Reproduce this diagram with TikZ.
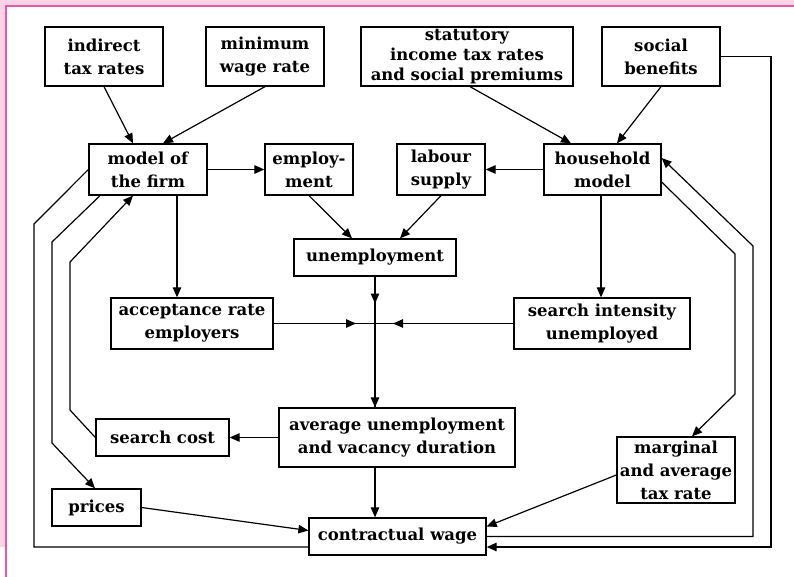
\documentclass[tikz,border=0pt]{standalone}
\usepackage{fontspec}
\setmainfont{DejaVu Serif}
\usetikzlibrary{arrows.meta}
\definecolor{pinkfill}{HTML}{F9D3E6}
\definecolor{pinkline}{HTML}{EE55AA}
\tikzset{
  box/.style={draw=black, line width=1.3pt, fill=white, align=center, inner sep=0pt,
    font=\fontsize{16.5}{23}\selectfont\bfseries},
  arr/.style={line width=1.2pt, -{Triangle[length=10pt,width=8.5pt]}},
  ln/.style={line width=1.2pt},
}
\begin{document}
\begin{tikzpicture}[x=1pt,y=-1pt]
\useasboundingbox (0,0) rectangle (794,577);
% frame
\fill[pinkfill] (0,0) rectangle (794,6);
\fill[pinkfill] (0,0) rectangle (6,547);
\draw[pinkline, line width=1.5pt] (6,577) -- (6,6) -- (794,6);

% nodes
\node[box, minimum width=118pt, minimum height=59pt] (ind) at (104,56.5) {indirect\\tax rates};
\node[box, minimum width=118pt, minimum height=59pt] (minw) at (265,56.5) {minimum\\wage rate};
\node[box, minimum width=212pt, minimum height=59pt, font=\fontsize{16.5}{20}\selectfont\bfseries] (stat) at (467,56.5) {statutory\\income tax rates\\and social premiums};
\node[box, minimum width=118pt, minimum height=59pt] (soc) at (661,56.5) {social\\benefits};
\node[box, minimum width=118pt, minimum height=51pt] (firm) at (148,169.5) {model of\\the firm};
\node[box, minimum width=88pt, minimum height=51pt] (empl) at (309,169.5) {employ-\\ment};
\node[box, minimum width=88pt, minimum height=51pt] (lab) at (441,169.5) {labour\\supply};
\node[box, minimum width=117pt, minimum height=51pt] (hh) at (602.5,169.5) {household\\model};
\node[box, minimum width=162pt, minimum height=37pt] (unem) at (375,257.5) {unemployment};
\node[box, minimum width=162pt, minimum height=51pt] (acc) at (192,323.5) {acceptance rate\\employers};
\node[box, minimum width=176pt, minimum height=51pt] (sint) at (602,323.5) {search intensity\\unemployed};
\node[box, minimum width=236pt, minimum height=59pt] (avg) at (397,437.5) {average unemployment\\and vacancy duration};
\node[box, minimum width=133pt, minimum height=37pt] (scost) at (162.5,437.5) {search cost};
\node[box, minimum width=118pt, minimum height=66pt] (marg) at (676,470) {marginal\\and average\\tax rate};
\node[box, minimum width=89pt, minimum height=37pt] (prices) at (96.5,507.5) {prices};
\node[box, minimum width=177pt, minimum height=37pt] (wage) at (397.5,536.5) {contractual wage};

% junction and bend points
\coordinate (J) at (375,323.5);
\coordinate (a1) at (70,410); \coordinate (a2) at (70,262);
\coordinate (b1) at (52,242); \coordinate (b2) at (52,443);
\coordinate (c1) at (34,224); \coordinate (c2) at (34,547);
\coordinate (d1) at (735,254); \coordinate (d2) at (735,394);
\coordinate (e1) at (753,536.5); \coordinate (e2) at (753,246);
\coordinate (f1) at (771,56.5); \coordinate (f2) at (771,547);

% connectors
\draw[arr] (ind.south) -- ([xshift=-15pt]firm.north);
\draw[arr] (minw.south) -- ([xshift=15pt]firm.north);
\draw[arr] ([xshift=3pt]stat.south) -- ([xshift=-31.5pt]hh.north);
\draw[arr] (soc.south) -- ([xshift=14.5pt]hh.north);
\draw[arr] (firm.east) -- (empl.west);
\draw[arr] (hh.west) -- (lab.east);
\draw[arr] (empl.south) -- ([xshift=-23pt]unem.north);
\draw[arr] (lab.south) -- ([xshift=25pt]unem.north);
\draw[arr] ([xshift=29pt]firm.south) -- ([xshift=29pt]firm.south |- acc.north);
\draw[arr] ([xshift=-1.5pt]hh.south) -- ([xshift=-1.5pt]hh.south |- sint.north);
% junction: lines run through, arrowheads part way
\draw[ln] (unem.south) -- (J |- avg.north);
\draw[ln] (acc.east) -- (sint.west);
\draw[arr] (unem.south) -- ([yshift=20pt]J);
\draw[arr] ([yshift=20pt]J) -- (J |- avg.north);
\draw[arr] (acc.east) -- ([xshift=-19pt]J);
\draw[arr] (sint.west) -- ([xshift=18pt]J);
\draw[arr] (J |- avg.south) -- (J |- wage.north);
\draw[arr] (avg.west) -- (scost.east);
\draw[arr] (scost.west) -- (a1) -- (a2) -- ([xshift=-15pt]firm.south);
\draw[arr] ([xshift=-48pt]firm.south) -- (b1) -- (b2) -- ([xshift=-1.5pt]prices.north);
\draw[ln] (firm.west) -- (c1) -- (c2) -- ([yshift=-10.5pt]wage.west);
\draw[arr] (prices.east) -- ([yshift=6pt]wage.west);
\draw[arr] ([yshift=-5pt]marg.west) -- ([yshift=10pt]wage.east);
\draw[arr] ([yshift=-12.5pt]hh.east) -- (d1) -- (d2) -- ([xshift=16pt]marg.north);
\draw[arr] (wage.east) -- (e1) -- (e2) -- ([yshift=11.5pt]hh.east);
\draw[arr] (soc.east) -- (f1) -- (f2) -- ([yshift=-10.5pt]wage.east);
\end{tikzpicture}
\end{document}
